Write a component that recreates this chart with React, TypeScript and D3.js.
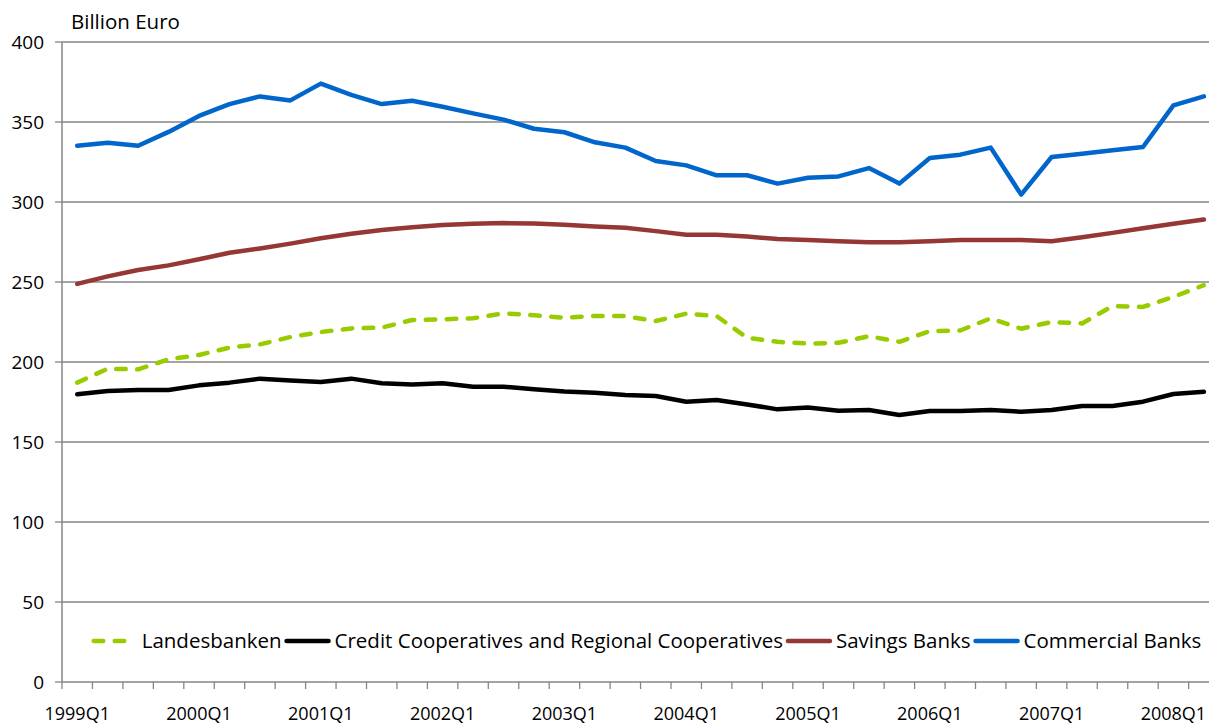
import React, { useEffect, useRef } from "react";
import * as d3 from "d3";

const years = ["1999", "2000", "2001", "2002", "2003", "2004", "2005", "2006", "2007", "2008"];
const quarters: string[] = [];
years.forEach((y) => ["Q1", "Q2", "Q3", "Q4"].forEach((q) => quarters.push(y + q)));
const categories = quarters.slice(0, 38);

const landesbanken = [187.1, 195.8, 195.4, 201.7, 204.4, 209, 211, 215.6, 218.75, 221, 221.5, 226.25, 226.7, 227.3, 230.4, 229.2, 227.7, 228.75, 228.7, 225.6, 230.2, 228.7, 215.1, 212.6, 211.5, 212, 216.1, 212.6, 219.3, 219.7, 227.3, 220.8, 225, 224.1, 235, 234.4, 240.7, 248];
const credit = [179.8, 181.9, 182.5, 182.5, 185.4, 187.1, 189.6, 188.5, 187.5, 189.6, 186.7, 186, 186.7, 184.6, 184.6, 182.9, 181.6, 180.8, 179.4, 178.75, 175.2, 176.25, 173.5, 170.4, 171.5, 169.6, 170, 166.9, 169.4, 169.4, 170, 168.9, 170, 172.5, 172.5, 175.2, 180, 181.4];
const savings = [248.8, 253.5, 257.5, 260.4, 264.2, 268.3, 271, 274, 277.3, 280.2, 282.5, 284.2, 285.6, 286.4, 286.8, 286.6, 285.8, 284.7, 283.9, 281.8, 279.5, 279.5, 278.4, 276.9, 276.3, 275.5, 274.8, 274.8, 275.5, 276.3, 276.3, 276.3, 275.5, 278, 280.7, 283.6, 286.4, 289.1];
const commercial = [335.2, 337.1, 335.2, 343.8, 353.8, 361.2, 366, 363.5, 374, 367, 361.2, 363.3, 359.5, 355.4, 351.5, 345.8, 343.6, 337.3, 334, 325.6, 322.9, 316.7, 316.7, 311.5, 315.2, 316, 321.2, 311.5, 327.5, 329.6, 334, 304.6, 328.1, 330.2, 332.3, 334.4, 360.4, 366];

const seriesNames = ["Landesbanken", "Credit Cooperatives and Regional Cooperatives", "Savings Banks", "Commercial Banks"];
const seriesValues = [landesbanken, credit, savings, commercial];
const seriesColors = ["#99CC00", "#000000", "#953735", "#0066CC"];
const seriesDashed = [true, false, false, false];

const yTicks = [0, 50, 100, 150, 200, 250, 300, 350, 400];
const yTitle = "Billion Euro";

const W = 1209;
const H = 725;
const FONT = "'Open Sans', sans-serif";

export default function App() {
  const ref = useRef<SVGSVGElement>(null);

  useEffect(() => {
    const svg = d3.select(ref.current!);
    svg.selectAll("*").remove();

    const left = 62;
    const top = 42;
    const bottom = 682;
    const step = 30.45;
    const right = left + categories.length * step;

    const x = d3.scaleBand<string>().domain(categories).range([left, right]).paddingInner(0).paddingOuter(0);
    const y = d3.scaleLinear().domain([0, 400]).range([bottom, top]);
    const cx = (c: string) => (x(c) as number) + x.bandwidth() / 2;

    const grid = "#868686";

    svg
      .append("g")
      .selectAll("line")
      .data(yTicks.filter((t) => t > 0))
      .join("line")
      .attr("x1", left)
      .attr("x2", right)
      .attr("y1", (d) => y(d))
      .attr("y2", (d) => y(d))
      .attr("stroke", grid)
      .attr("stroke-width", 1.3);

    const ya = svg.append("g");
    ya.append("line").attr("x1", left).attr("x2", left).attr("y1", top).attr("y2", bottom).attr("stroke", grid).attr("stroke-width", 1.5);
    ya.selectAll("line.t")
      .data(yTicks)
      .join("line")
      .attr("class", "t")
      .attr("x1", left - 7)
      .attr("x2", left)
      .attr("y1", (d) => y(d))
      .attr("y2", (d) => y(d))
      .attr("stroke", grid)
      .attr("stroke-width", 1.3);
    ya.selectAll("text")
      .data(yTicks)
      .join("text")
      .attr("x", 44)
      .attr("y", (d) => y(d) + 6.8)
      .attr("text-anchor", "end")
      .attr("font-family", FONT)
      .attr("font-size", 19)
      .attr("fill", "#000")
      .text((d) => String(d));

    const xa = svg.append("g");
    xa.append("line").attr("x1", left).attr("x2", right).attr("y1", bottom).attr("y2", bottom).attr("stroke", grid).attr("stroke-width", 1.5);
    const boundaries = categories.map((c) => x(c) as number).concat([right]);
    xa.selectAll("line.t")
      .data(boundaries)
      .join("line")
      .attr("class", "t")
      .attr("x1", (d) => d)
      .attr("x2", (d) => d)
      .attr("y1", bottom)
      .attr("y2", bottom + 7)
      .attr("stroke", grid)
      .attr("stroke-width", 1.3);
    xa.selectAll("text")
      .data(categories.filter((_, i) => i % 4 === 0))
      .join("text")
      .attr("x", (d) => cx(d))
      .attr("y", 720)
      .attr("text-anchor", "middle")
      .attr("font-family", FONT)
      .attr("font-size", 18)
      .attr("fill", "#000")
      .text((d) => d);

    svg
      .append("text")
      .attr("x", 71)
      .attr("y", 29)
      .attr("font-family", FONT)
      .attr("font-size", 20.5)
      .attr("fill", "#000")
      .text(yTitle);

    const lineGen = d3
      .line<number>()
      .x((_, i) => cx(categories[i]))
      .y((d) => y(d));
    const lg = svg.append("g");
    seriesValues.forEach((vals, k) => {
      lg.append("path")
        .attr("d", lineGen(vals) as string)
        .attr("fill", "none")
        .attr("stroke", seriesColors[k])
        .attr("stroke-width", 4.5)
        .attr("stroke-linejoin", "round")
        .attr("stroke-linecap", "round")
        .attr("stroke-dasharray", seriesDashed[k] ? "9.5,11.5" : null);
    });

    const leg = svg.append("g");
    const items: { g: any; w: number }[] = [];
    seriesNames.forEach((name, k) => {
      const g = leg.append("g");
      g.append("line")
        .attr("x1", 3)
        .attr("x2", 45)
        .attr("y1", 0)
        .attr("y2", 0)
        .attr("stroke", seriesColors[k])
        .attr("stroke-width", 4.5)
        .attr("stroke-linecap", "round")
        .attr("stroke-dasharray", seriesDashed[k] ? "9.5,11.5" : null);
      const t = g
        .append("text")
        .attr("x", 51)
        .attr("y", 7.3)
        .attr("font-family", FONT)
        .attr("font-size", 20.5)
        .attr("fill", "#000")
        .text(name);
      const tw = (t.node() as SVGTextElement).getComputedTextLength();
      items.push({ g, w: 51 + tw + 2 });
    });
    const total = d3.sum(items, (d) => d.w);
    let cur = 647 - total / 2;
    items.forEach((it) => {
      it.g.attr("transform", `translate(${cur},641)`);
      cur += it.w;
    });
  }, []);

  return <svg ref={ref} width={W} height={H} style={{ display: "block", position: "absolute", left: 0, top: 0, background: "#fff" }} />;
}
